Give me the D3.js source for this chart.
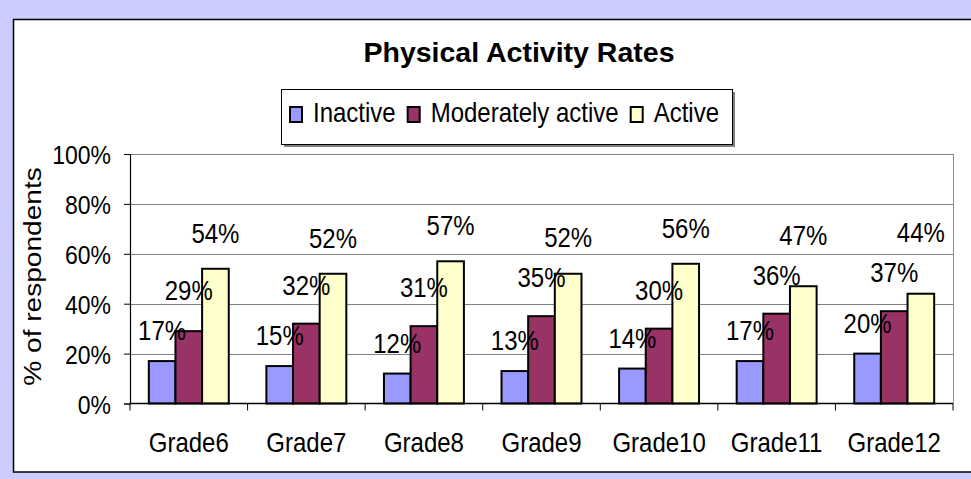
<!DOCTYPE html>
<html>
<head>
<meta charset="utf-8">
<script src="https://cdn.jsdelivr.net/npm/d3@7"></script>
<style>
  body { margin: 0; background: #ccccff; }
  text { font-family: "Liberation Sans", Arial, sans-serif; fill: #000; }
</style>
</head>
<body>
<div id="chart"></div>
<script>
var grades = ["Grade6", "Grade7", "Grade8", "Grade9", "Grade10", "Grade11", "Grade12"];
var seriesNames = ["Inactive", "Moderately active", "Active"];
var inactive = [17, 15, 12, 13, 14, 17, 20];
var moderate = [29, 32, 31, 35, 30, 36, 37];
var active = [54, 52, 57, 52, 56, 47, 44];
var yTicks = [0, 20, 40, 60, 80, 100];

var colors = ["#9999ff", "#993366", "#ffffcc"];
var labelLift = [21, 29, 26];   // how far above the bar Excel put each series' labels
var labelGap = 40;              // keep a label this far above the previous one in its group
var stretch = 1.15;             // the picture is squeezed taller than it is wide

var W = 971, H = 479;
var plot = { left: 130, right: 953, top: 154, bottom: 403.5 };

var svg = d3.select("#chart")
    .append("svg")
    .attr("width", W)
    .attr("height", H);

svg.append("rect")
    .attr("x", 0).attr("y", 0)
    .attr("width", W).attr("height", H)
    .style("fill", "#ccccff");

svg.append("rect")
    .attr("x", 13.5).attr("y", 19.5)
    .attr("width", W).attr("height", 452.5)
    .style("fill", "#fff")
    .style("stroke", "#000")
    .style("stroke-width", 1.5);

var data = grades.map(function(g, i) {
    return { grade: g, values: [inactive[i], moderate[i], active[i]] };
});

var x0 = d3.scaleBand()
    .domain(grades)
    .range([plot.left, plot.right]);

var bw = x0.bandwidth();
var groupW = bw * 0.68;
var x1 = d3.scaleBand()
    .domain(d3.range(seriesNames.length))
    .range([(bw - groupW) / 2, (bw + groupW) / 2]);

var y = d3.scaleLinear()
    .domain([0, 100])
    .range([plot.bottom, plot.top]);

// label baselines: above the bar, pushed up if they would hit the previous label
data.forEach(function(d) {
    d.labelY = [];
    d.values.forEach(function(v, i) {
        var ly = y(v) - labelLift[i];
        if (i > 0) ly = Math.min(ly, d.labelY[i - 1] - labelGap);
        d.labelY.push(ly);
    });
});

// gridlines and plot border
svg.selectAll(".grid")
    .data(yTicks.slice(1))
    .enter()
    .append("line")
    .attr("x1", plot.left).attr("x2", plot.right)
    .attr("y1", function(d) { return Math.round(y(d)) + 0.5; })
    .attr("y2", function(d) { return Math.round(y(d)) + 0.5; })
    .style("stroke", "#808080")
    .style("stroke-width", 1);

svg.append("line")
    .attr("x1", plot.right + 0.5).attr("x2", plot.right + 0.5)
    .attr("y1", plot.top).attr("y2", plot.bottom)
    .style("stroke", "#909090");

// bars
var groups = svg.selectAll(".grp")
    .data(data)
    .enter()
    .append("g")
    .attr("transform", function(d) { return "translate(" + x0(d.grade) + ",0)"; });

groups.selectAll("rect")
    .data(function(d) { return d.values; })
    .enter()
    .append("rect")
    .attr("x", function(d, i) { return x1(i); })
    .attr("y", function(d) { return y(d); })
    .attr("width", x1.bandwidth())
    .attr("height", function(d) { return y(0) - y(d); })
    .style("fill", function(d, i) { return colors[i]; })
    .style("stroke", "#000")
    .style("stroke-width", 2);

groups.selectAll(".lbl")
    .data(function(d) { return d.values.map(function(v, i) { return { v: v, ly: d.labelY[i] }; }); })
    .enter()
    .append("text")
    .attr("text-anchor", "middle")
    .attr("transform", function(d, i) {
        return "translate(" + (x1(i) + x1.bandwidth() / 2) + "," + d.ly + ") scale(1," + stretch + ")";
    })
    .style("font-size", "24px")
    .text(function(d) { return d.v + "%"; });

// y axis
var yAxis = svg.append("g")
    .attr("transform", "translate(" + plot.left + ",0)")
    .call(d3.axisLeft(y).tickValues(yTicks).tickSize(6).tickPadding(13)
        .tickFormat(function(d) { return d + "%"; }));
yAxis.select(".domain").style("stroke", "#000").style("stroke-width", 1.2);
yAxis.selectAll(".tick line").style("stroke", "#000");
yAxis.selectAll(".tick text")
    .style("font-size", "23px")
    .style("font-family", "'Liberation Sans', Arial, sans-serif")
    .attr("dy", "0.36em")
    .attr("transform", "scale(1," + stretch + ")");

// x axis
svg.append("line")
    .attr("x1", plot.left).attr("x2", plot.right)
    .attr("y1", plot.bottom).attr("y2", plot.bottom)
    .style("stroke", "#000")
    .style("stroke-width", 1.5);

svg.selectAll(".xtick")
    .data(grades.map(function(g) { return x0(g); }).concat([plot.right]))
    .enter()
    .append("line")
    .attr("x1", function(d) { return d; }).attr("x2", function(d) { return d; })
    .attr("y1", plot.bottom).attr("y2", plot.bottom + 7)
    .style("stroke", "#000");

svg.selectAll(".xlbl")
    .data(grades)
    .enter()
    .append("text")
    .attr("text-anchor", "middle")
    .attr("transform", function(d) {
        return "translate(" + (x0(d) + bw / 2) + "," + (plot.bottom + 48) + ") scale(1," + stretch + ")";
    })
    .style("font-size", "24px")
    .text(function(d) { return d; });

svg.append("text")
    .attr("text-anchor", "middle")
    .attr("transform", "translate(41," + ((163 + 390) / 2) + ") scale(1,1.17) rotate(-90)")
    .style("font-size", "24px")
    .text("% of respondents");

// title
svg.append("text")
    .attr("x", 519)
    .attr("y", 62)
    .attr("text-anchor", "middle")
    .style("font-size", "28.5px")
    .style("font-weight", "bold")
    .text("Physical Activity Rates");

// legend
var legend = svg.append("g");
legend.append("rect")
    .attr("x", 284).attr("y", 92)
    .attr("width", 451).attr("height", 55)
    .style("fill", "#808080");
legend.append("rect")
    .attr("x", 281.5).attr("y", 89.5)
    .attr("width", 451).attr("height", 55)
    .style("fill", "#fff")
    .style("stroke", "#000");

var lx = 290;
seriesNames.forEach(function(name, i) {
    legend.append("rect")
        .attr("x", lx).attr("y", 107)
        .attr("width", 12).attr("height", 15)
        .style("fill", colors[i])
        .style("stroke", "#000")
        .style("stroke-width", 2);
    var t = legend.append("text")
        .attr("transform", "translate(" + (lx + 23) + ",121.5) scale(1,1.17)")
        .style("font-size", "24px")
        .text(name);
    lx += 23 + t.node().getComputedTextLength() + 12;
});
</script>
</body>
</html>
